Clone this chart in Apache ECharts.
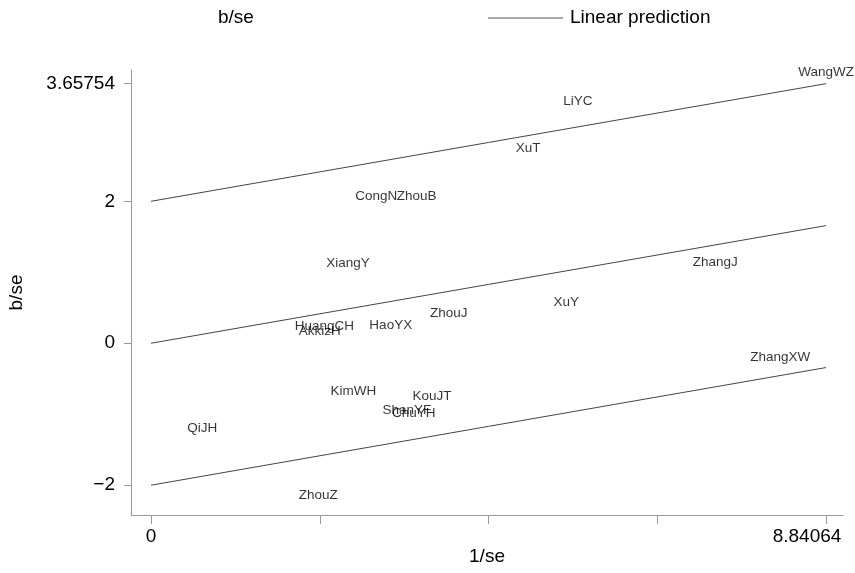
<!DOCTYPE html>
<html>
<head>
<meta charset="utf-8">
<script src="https://cdn.jsdelivr.net/npm/echarts@6/dist/echarts.min.js"></script>
<style>html,body{margin:0;padding:0;background:#fff}#c{width:855px;height:573px}</style>
</head>
<body>
<div id="c"></div>
<script>
// Study labels and their (1/se, b/se) positions
var studies = ["WangWZ","LiYC","XuT","CongN","ZhouB","XiangY","ZhangJ","XuY","ZhouJ","HaoYX","HuangCH","AkkizH","KimWH","KouJT","ShanYF","ChuYH","QiJH","ZhangXW","ZhouZ"];
var invSe  = [8.84064,5.59,4.94,2.95,3.48,2.58,7.39,5.44,3.90,3.14,2.27,2.21,2.65,3.68,3.35,3.44,0.67,8.24,2.19];
var bSe    = [3.82,3.41,2.75,2.07,2.07,1.13,1.14,0.58,0.42,0.25,0.24,0.17,-0.68,-0.75,-0.94,-0.99,-1.20,-0.20,-2.14];
// Linear prediction (slope through origin) and band offsets
var slope = 0.18748;
var offsets = [2, 0, -2];
var xTicks = [0, 2.21016, 4.42032, 6.63048, 8.84064];
var xLabels = [0, 8.84064];
var yTicks = [-2, 0, 2, 3.65754];
var xMax = 8.84064;

var font = "'Liberation Sans', Arial, Helvetica, sans-serif";
var axisGray = '#999999';
var pts = studies.map(function(n,i){ return [invSe[i], bSe[i], n]; });
var lineSeries = offsets.map(function(c){
  return {
    type:'line', silent:true, symbol:'none',
    data:[[0, c], [xMax, c + slope*xMax]],
    lineStyle:{color:'#444', width:1}
  };
});

var chart = echarts.init(document.getElementById('c'), null, {renderer:'canvas'});
chart.setOption({
  animation:false,
  backgroundColor:'#fff',
  grid:{left:131, right:12, top:70, bottom:58, containLabel:false, outerBoundsMode:'none'},
  xAxis:{
    type:'value', min:-0.262, max:9.063,
    name:'1/se', nameLocation:'middle', nameGap:32, nameMoveOverlap:false,
    nameTextStyle:{fontFamily:font, fontSize:19, color:'#000'},
    axisLine:{show:true, onZero:false, lineStyle:{color:axisGray, width:1}},
    axisTick:{show:true, length:9, lineStyle:{color:axisGray}, customValues:xTicks},
    axisLabel:{customValues:xLabels, fontFamily:font, fontSize:19, color:'#000', margin:12,
      formatter:function(v){ return v === 0 ? '{n|0}' : '{r|' + v + '}'; },
      rich:{n:{fontFamily:font, fontSize:19, color:'#000'},
            r:{fontFamily:font, fontSize:19, color:'#000', padding:[0,38,0,0]}}},
    splitLine:{show:false}
  },
  yAxis:{
    type:'value', min:-2.42, max:3.85,
    name:'b/se', nameLocation:'middle', nameGap:105, nameRotate:90, nameMoveOverlap:false,
    nameTextStyle:{fontFamily:font, fontSize:19, color:'#000'},
    axisLine:{show:true, onZero:false, lineStyle:{color:axisGray, width:1}},
    axisTick:{show:true, length:7, lineStyle:{color:axisGray}, customValues:yTicks},
    axisLabel:{customValues:yTicks, fontFamily:font, fontSize:19, color:'#000', margin:16,
      formatter:function(v){ return v < 0 ? '\u2212' + Math.abs(v) : String(v); }},
    splitLine:{show:false}
  },
  graphic:[
    {type:'text', left:218, top:8, style:{text:'b/se', font:'19px ' + font, fill:'#000'}},
    {type:'line', shape:{x1:488, y1:18, x2:563, y2:18}, style:{stroke:'#555', lineWidth:1}},
    {type:'text', left:570, top:8, style:{text:'Linear prediction', font:'19px ' + font, fill:'#000'}}
  ],
  series: lineSeries.concat([{
    type:'scatter', symbolSize:0, data:pts,
    label:{show:true, position:'inside', formatter:function(p){ return p.data[2]; },
      fontFamily:font, fontSize:13.5, color:'#000'}
  }])
});
</script>
</body>
</html>
